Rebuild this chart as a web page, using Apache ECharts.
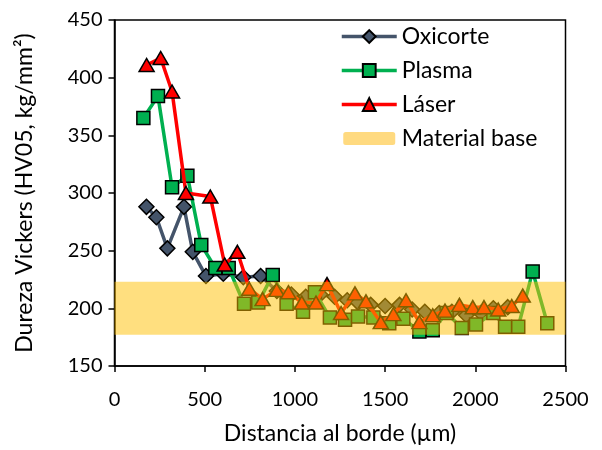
<!DOCTYPE html>
<html><head><meta charset="utf-8">
<script src="https://cdn.jsdelivr.net/npm/echarts@6/dist/echarts.min.js"></script>
<style>html,body{margin:0;padding:0;background:#fff}#c{width:602px;height:450px}</style>
</head><body><div id="c"></div>
<script>
// Oxicorte
const oxiX = [177,232,293,385,434,507,603,714,810,900,980,1060,1140,1220,1290,1350,1420,1500,1580,1650,1720,1800,1870,1950,2030,2100,2180];
const oxiY = [288,279,252,288,249,228,230,227,228,215,212,210,212,210,207,205,203,202,203,199,197,196,197,194,196,200,201];
// Plasma
const plaX = [160,241,319,404,481,559,633,718,797,877,954,1045,1111,1194,1278,1350,1435,1523,1601,1690,1764,1841,1925,2004,2100,2165,2238,2318,2399];
const plaY = [365,384,305,315,255,235,235,204,205,229,204,197,214,192,190,193,192,187,191,180,181,196,183,186,196,184,184,232,187];
// Láser
const lasX = [178,256,319,396,531,611,681,747,821,899,964,1038,1117,1178,1256,1333,1394,1476,1546,1616,1690,1764,1832,1912,1986,2048,2127,2202,2263];
const lasY = [411,417,388,300,297,238,249,217,208,216,214,205,205,221,196,213,206,188,195,207,188,194,198,203,201,201,199,202,211];
// Material base
const baseX = [0,2500];
const baseY = [200,200];
const xTicks = [0,500,1000,1500,2000,2500];
const yTicks = [150,200,250,300,350,400,450];

const zip = (a,b)=>a.map((v,i)=>[v,b[i]]);
const FONT = 'Lato';
const chart = echarts.init(document.getElementById('c'));
chart.setOption({
  animation:false,
  textStyle:{fontFamily:FONT},
  grid:{left:114.5,right:36.5,top:20,bottom:80,show:true,borderColor:'#000',borderWidth:1.5},
  legend:{
    orient:'vertical', left:335, top:20, itemGap:11, itemWidth:55, itemHeight:16,
    textStyle:{fontFamily:FONT,fontSize:23,color:'#000'},
    data:[
      {name:'Oxicorte', lineStyle:{width:3.5}},
      {name:'Plasma', lineStyle:{width:3.5}},
      {name:'Láser', lineStyle:{width:3.5}},
      {name:'Material base', icon:'roundRect', itemStyle:{color:'#FFDA80',opacity:1,borderColor:'#fff',borderWidth:3}}
    ]
  },
  xAxis:{type:'value',min:xTicks[0],max:xTicks[xTicks.length-1],interval:500,
    name:'Distancia al borde (µm)',nameLocation:'middle',nameGap:56,
    nameTextStyle:{fontFamily:FONT,fontSize:23,color:'#000'},
    axisLine:{lineStyle:{color:'#000',width:1.5}},
    axisTick:{show:true,length:6,lineStyle:{color:'#000',width:1.5}},
    axisLabel:{fontFamily:FONT,fontSize:20,color:'#000',margin:24,formatter:v=>String(v)},
    splitLine:{show:false}},
  yAxis:{type:'value',min:yTicks[0],max:yTicks[yTicks.length-1],interval:50,
    name:'Dureza Vickers (HV05, kg/mm²)',nameLocation:'middle',nameGap:78,
    nameTextStyle:{fontFamily:FONT,fontSize:23,color:'#000'},
    axisLine:{lineStyle:{color:'#000',width:1.5}},
    axisTick:{show:true,length:6,lineStyle:{color:'#000',width:1.5}},
    axisLabel:{fontFamily:FONT,fontSize:20,color:'#000',margin:12,formatter:v=>String(v)},
    splitLine:{show:false}},
  series:[
    {name:'Oxicorte',type:'line',data:zip(oxiX,oxiY),symbol:'diamond',symbolSize:[15,15],
     lineStyle:{color:'#44546A',width:3.5},itemStyle:{color:'#44546A',borderColor:'#000',borderWidth:1.5},z:2},
    {name:'Plasma',type:'line',data:zip(plaX,plaY),symbol:'rect',symbolSize:[13,13],
     lineStyle:{color:'#00B050',width:3.5},itemStyle:{color:'#00B050',borderColor:'#000',borderWidth:1.5},z:3},
    {name:'Láser',type:'line',data:zip(lasX,lasY),symbol:'triangle',symbolSize:[15,13],
     lineStyle:{color:'#FF0000',width:3.5},itemStyle:{color:'#FF0000',borderColor:'#000',borderWidth:1.5},z:4},
    {name:'Material base',type:'line',data:zip(baseX,baseY),symbol:'none',
     lineStyle:{color:'#FFC000',width:53,opacity:0.5,cap:'butt'},itemStyle:{color:'#FFC000'},z:10,silent:true}
  ]
});
</script></body></html>
